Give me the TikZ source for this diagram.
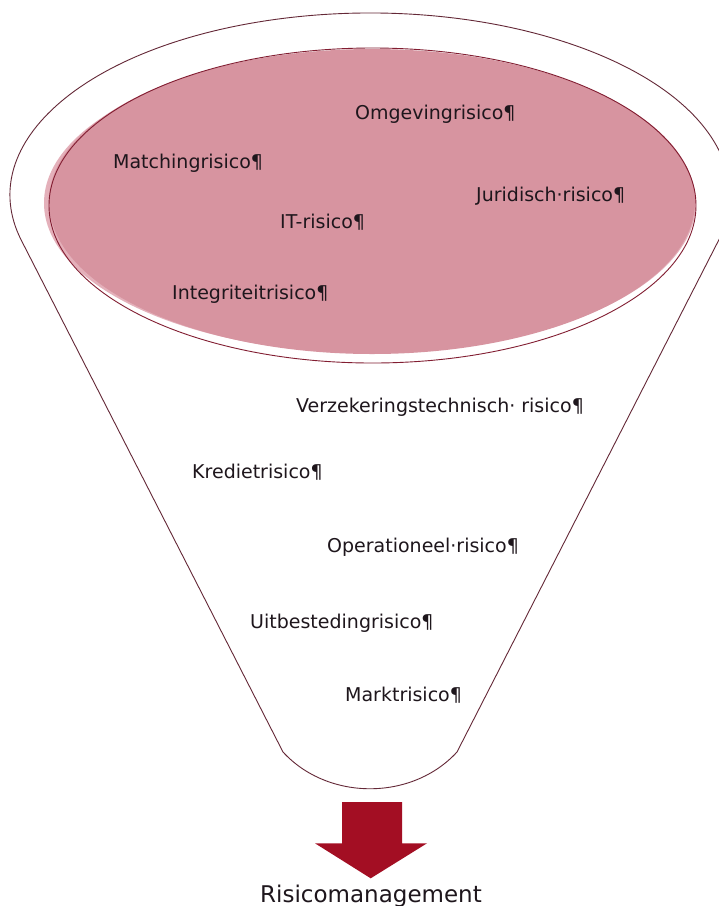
\documentclass[tikz,border=0pt]{standalone}
\usepackage{fontspec}
\setmainfont{DejaVu Sans}
\definecolor{funnelline}{RGB}{100,40,55}
\definecolor{ellline}{RGB}{130,30,50}
\definecolor{ellfill}{RGB}{215,148,160}
\definecolor{ellhalo}{RGB}{228,176,186}
\definecolor{arrowred}{RGB}{163,14,35}
\definecolor{txt}{RGB}{30,22,28}
\tikzset{
  risk/.style={anchor=base west, inner sep=0pt, text=txt, font=\fontsize{19}{22}\selectfont},
  result/.style={anchor=base, inner sep=0pt, text=txt, font=\fontsize{23}{26}\selectfont},
  funnel/.style={draw=funnelline, line width=0.9pt, line join=round},
}
\begin{document}
\begin{tikzpicture}[x=1pt,y=-1pt]
\useasboundingbox (0,0) rectangle (719,906);
\clip (0,0) rectangle (719,906);
\fill[white] (0,0) rectangle (719,906);
% funnel outline
\draw[funnel] (21.15,239.95) arc[start angle=165.7, end angle=374.3, x radius=360, y radius=182]
  -- (457,752) .. controls (412,801) and (328,801) .. (283,752) -- cycle;
% inner ellipse
\fill[ellhalo] (370,203) ellipse [x radius=326, y radius=150];
\fill[ellfill] (372,201.5) ellipse [x radius=323, y radius=152.5];
\draw[ellline, line width=0.9pt] (372.5,205.5) ellipse [x radius=323.5, y radius=157.5];
% texts
\node[risk] (omg) at (355,119.5) {Omgevingrisico¶};
\node[risk] (match) at (113,168.5) {Matchingrisico¶};
\node[risk] (jur) at (476,201) {Juridisch·risico¶};
\node[risk] (it) at (280,228) {IT-risico¶};
\node[risk] (integ) at (172,299.5) {Integriteitrisico¶};
\node[risk] (verz) at (296,412.5) {Verzekeringstechnisch· risico¶};
\node[risk] (kred) at (192,478.5) {Kredietrisico¶};
\node[risk] (oper) at (327,552.5) {Operationeel·risico¶};
\node[risk] (uitb) at (250,628.5) {Uitbestedingrisico¶};
\node[risk] (markt) at (345,701.5) {Marktrisico¶};
% arrow
\fill[arrowred] (342,802) -- (402,802) -- (402,843.3) -- (427,843.3) -- (370.7,878.3)
  -- (315,843.3) -- (342,843.3) -- cycle;
\node[result] (rm) at (371,902) {Risicomanagement};
\end{tikzpicture}
\end{document}
